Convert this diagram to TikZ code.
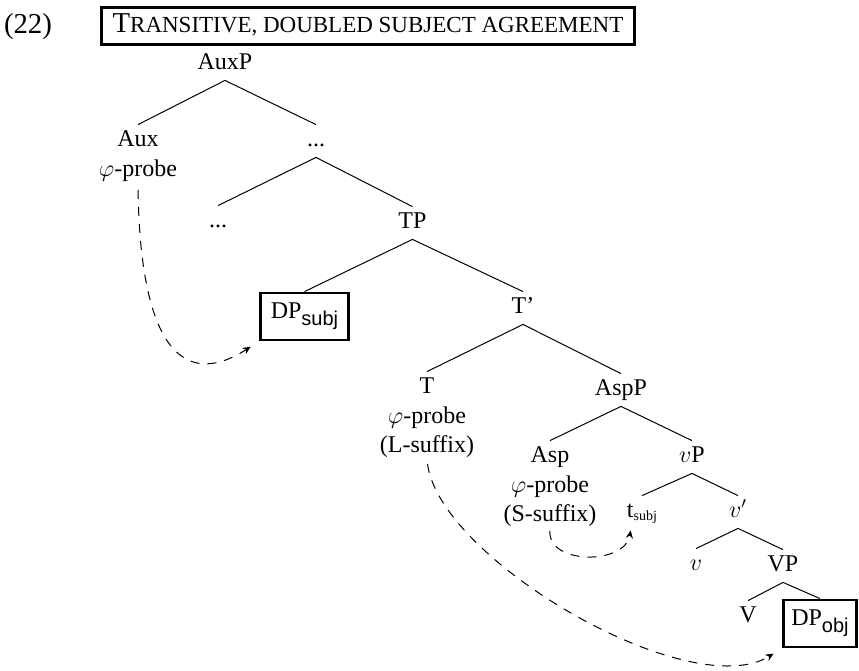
\documentclass[tikz,border=0pt]{standalone}
\usepackage{fontspec}
\setmainfont{Liberation Serif}
\setsansfont{Liberation Sans}
\usetikzlibrary{arrows.meta}

% faked small capitals for the heading
\newcommand\smallcapsfake[1]{{\fontsize{11.5}{13}\selectfont #1}}
% sans subscript inside the boxed DPs
\newcommand\sfsub[1]{\raisebox{-3.5pt}{\fontsize{10}{11}\selectfont\sffamily #1}}
% small serif subscript of the trace
\newcommand\rmsub[1]{\raisebox{-1.5pt}{\fontsize{7}{8}\selectfont #1}}

\begin{document}
\begin{tikzpicture}[x=0.5pt,y=-0.5pt,
  every node/.style={font=\fontsize{12}{14.5}\selectfont},
  tn/.style={anchor=base, inner xsep=1pt, inner ysep=2pt, text height=8.5pt, text depth=3.5pt},
  feat/.style={anchor=north, align=center, inner sep=1pt},
  boxed/.style={draw, line width=1.4pt, inner xsep=2pt, inner ysep=0pt, minimum height=23.5pt},
  branch/.style={line width=0.5pt},
  movearrow/.style={line width=0.5pt, dash pattern=on 4.5pt off 4pt,
    -{Stealth[length=4pt,width=3.6pt]}},
]
\useasboundingbox (0,0) rectangle (859,671);

% example number and heading
\node[anchor=base, font=\fontsize{14.4}{17}\selectfont] (exnum) at (28,33) {(22)};
\node[draw, line width=1.1pt, inner xsep=5.5pt, inner ysep=3pt,
      text height=9.5pt, text depth=3pt, font=\fontsize{14.4}{17}\selectfont]
  (title) at (368,26) {T\smallcapsfake{RANSITIVE, DOUBLED SUBJECT AGREEMENT}};

% tree nodes
\node[tn] (AuxP) at (225,69) {AuxP};
\node[tn] (Aux) at (138,146) {Aux};
\node[feat] (AuxF) at (Aux.south) {$\varphi$-probe};
\node[tn] (dotsR) at (316,146) {...};
\node[tn] (dotsL) at (218,227) {...};
\node[tn] (TP) at (412.5,228) {TP};
\node[boxed, minimum width=44pt] (DPs) at (304.5,316.5) {DP\sfsub{subj}};
\node[tn] (Tbar) at (523,313) {T’};
\node[tn] (T) at (427,393) {T};
\node[feat] (TF) at (T.south) {$\varphi$-probe\\(L-suffix)};
\node[tn] (AspP) at (621,395) {AspP};
\node[tn] (Asp) at (550,462) {Asp};
\node[feat] (AspF) at (Asp.south) {$\varphi$-probe\\(S-suffix)};
\node[tn] (vP) at (692,462) {$v$P};
\node[tn] (ts) at (642,517) {t\rmsub{subj}};
\node[tn] (vbar) at (738,517) {$v'$};
\node[tn] (v) at (696,570) {$v$};
\node[tn] (VP) at (783,571) {VP};
\node[tn] (V) at (748,622) {V};
\node[boxed, minimum width=36.5pt] (DPo) at (820,623.5) {DP\sfsub{obj}};

% branches
\draw[branch] (Aux.north) -- (AuxP.south) -- (dotsR.north);
\draw[branch] (dotsL.north) -- (dotsR.south) -- (TP.north);
\draw[branch] (DPs.north) -- (TP.south) -- (Tbar.north);
\draw[branch] (T.north) -- (Tbar.south) -- (AspP.north);
\draw[branch] (Asp.north) -- (AspP.south) -- (vP.north);
\draw[branch] (ts.north) -- (vP.south) -- (vbar.north);
\draw[branch] (v.north) -- (vbar.south) -- (VP.north);
\draw[branch] (V.north) -- (VP.south) -- (DPo.north);

% agreement and movement arrows
\draw[movearrow, shorten <=3pt, shorten >=5pt]
  (AuxF.south) .. controls (140,330) and (175,395) .. (DPs.south west);
\draw[movearrow, shorten <=2pt, shorten >=5pt]
  (TF.south) .. controls (440,560) and (690,705) .. (DPo.south west);
\draw[movearrow, shorten <=1pt, shorten >=1pt]
  (AspF.south) .. controls (548,565) and (625,565) .. ([xshift=-5.5pt]ts.south);
\end{tikzpicture}
\end{document}
